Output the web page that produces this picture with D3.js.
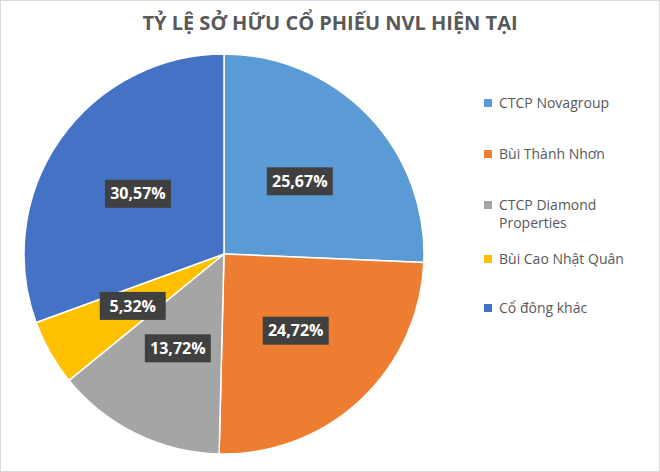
<!DOCTYPE html>
<html><head><meta charset="utf-8">
<script src="https://cdn.jsdelivr.net/npm/d3@7"></script>
<style>body{margin:0;background:#fff}svg{font-family:"Open Sans","Noto Sans",sans-serif}</style>
</head><body><div id="chart"></div>
<script>
const categories = ['CTCP Novagroup', 'Bùi Thành Nhơn', 'CTCP Diamond Properties', 'Bùi Cao Nhật Quân', 'Cổ đông khác'];
const values = [25.67, 24.72, 13.72, 5.32, 30.57];
const colors = ['#5b9bd5', '#ed7d31', '#a5a5a5', '#ffc000', '#4472c4'];
const legendLines = [['CTCP Novagroup'], ['Bùi Thành Nhơn'], ['CTCP Diamond', 'Properties'], ['Bùi Cao Nhật Quân'], ['Cổ đông khác']];
const legendY = [103, 154, 205, 259, 308];

const width = 660, height = 472, cx = 224, cy = 254, r = 200;
const fmt = v => v.toFixed(2).replace('.', ',') + '%';

const svg = d3.select('#chart').append('svg').attr('width', width).attr('height', height);
svg.append('rect').attr('x', 0.5).attr('y', 0.5).attr('width', width - 1).attr('height', height - 1)
  .attr('fill', '#fff').attr('stroke', '#d9d9d9');

svg.append('text').attr('x', 330).attr('y', 30).attr('text-anchor', 'middle')
  .attr('font-size', 20).attr('font-weight', 'bold').attr('fill', '#595959')
  .text('TỶ LỆ SỞ HỮU CỔ PHIẾU NVL HIỆN TẠI');

const pie = d3.pie().sort(null).value(d => d);
const arc = d3.arc().innerRadius(0).outerRadius(r);
const labelArc = d3.arc().innerRadius(r * 1.05).outerRadius(0);
const g = svg.append('g').attr('transform', `translate(${cx},${cy})`);
const arcs = pie(values);

g.selectAll('path').data(arcs).join('path')
  .attr('d', arc).attr('fill', (d, i) => colors[i])
  .attr('stroke', '#fff').attr('stroke-width', 1.5);

const labels = g.selectAll('g.lbl').data(arcs).join('g').attr('class', 'lbl')
  .attr('transform', d => `translate(${labelArc.centroid(d)})`);
labels.append('rect').attr('x', -33).attr('y', -14).attr('width', 66).attr('height', 28).attr('fill', '#404040');
labels.append('text').attr('text-anchor', 'middle').attr('dy', '0.35em')
  .attr('font-size', 16).attr('font-weight', 'bold').attr('fill', '#fff')
  .text(d => fmt(d.data));

const legend = svg.append('g');
categories.forEach((c, i) => {
  const row = legend.append('g').attr('transform', `translate(484,${legendY[i]})`);
  row.append('rect').attr('x', 0).attr('y', -4).attr('width', 8).attr('height', 8).attr('fill', colors[i]);
  legendLines[i].forEach((t, j) => {
    row.append('text').attr('x', 15).attr('y', j * 18).attr('dy', '0.35em')
      .attr('font-size', 14).attr('fill', '#595959').text(t);
  });
});
</script></body></html>
